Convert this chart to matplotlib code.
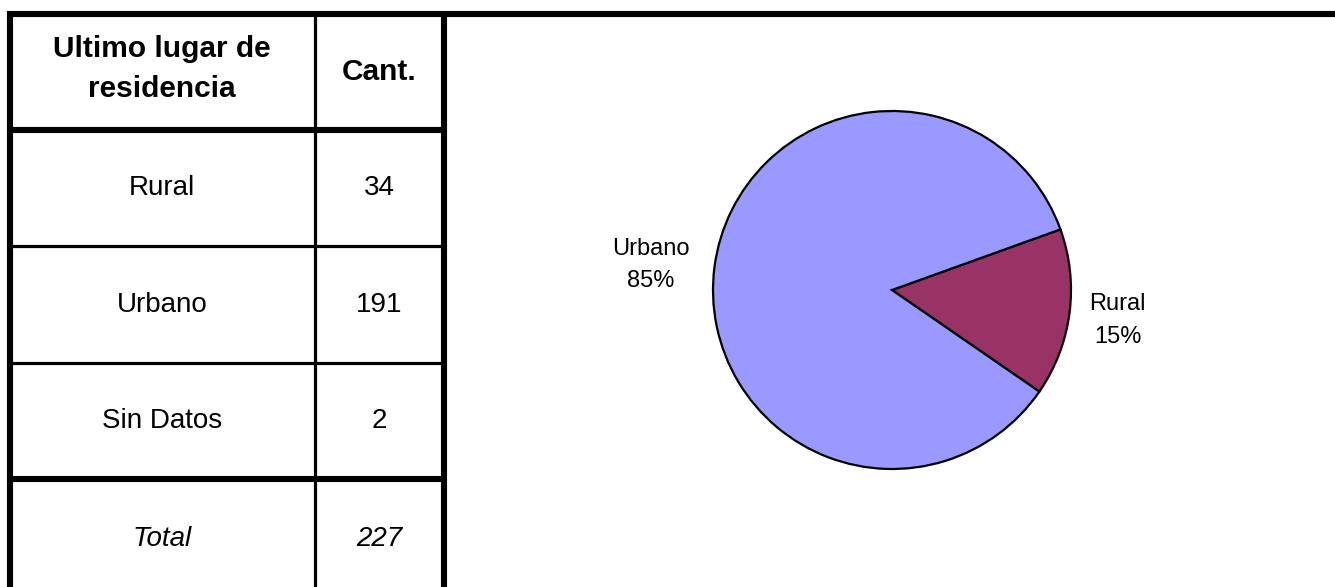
import matplotlib.pyplot as plt
import numpy as np

plt.rcParams["font.family"] = ["Liberation Sans", "DejaVu Sans"]

# table data
header_lugar = "Ultimo lugar de\nresidencia"
header_cant = "Cant."
categorias = ["Rural", "Urbano", "Sin Datos"]
cantidades = [34, 191, 2]
total = 227

# pie data (Sin Datos left out of the chart)
pie_labels = ["Rural", "Urbano"]
pie_values = [34, 191]
pie_colors = ["#993366", "#9999FF"]

W, H = 1335, 587
fig = plt.figure(figsize=(W / 100, H / 100), dpi=100)

# table drawn in pixel coordinates
ax = fig.add_axes([0, 0, 1, 1])
ax.set_xlim(0, W)
ax.set_ylim(H, 0)
ax.axis("off")

x_left, x_div, x_right = 10, 314.5, 444
y_top = 14
row_lines = [130, 246, 363, 479]
thick = 4.4
thin = 2.3

ax.plot([7, W], [y_top, y_top], color="black", lw=thick, solid_capstyle="butt")
ax.plot([x_left, x_left], [11, H], color="black", lw=thick, solid_capstyle="butt")
ax.plot([x_right, x_right], [11, H], color="black", lw=thick, solid_capstyle="butt")
ax.plot([x_div, x_div], [y_top, H], color="black", lw=thin, solid_capstyle="butt")
for i, y in enumerate(row_lines):
    lw = thick if i in (0, len(row_lines) - 1) else thin
    ax.plot([x_left, x_right], [y, y], color="black", lw=lw, solid_capstyle="butt")

c1 = (x_left + x_div) / 2
c2 = (x_div + x_right) / 2
fs = 20

ax.text(c1, 69, header_lugar, ha="center", va="center", fontsize=21.5,
        fontweight="bold", linespacing=1.55)
ax.text(c2, 72, header_cant, ha="center", va="center", fontsize=21.5, fontweight="bold")

for i, (cat, n) in enumerate(zip(categorias, cantidades)):
    yc = (row_lines[i] + row_lines[i + 1]) / 2
    ax.text(c1, yc, cat, ha="center", va="center", fontsize=fs)
    ax.text(c2, yc, str(n), ha="center", va="center", fontsize=fs)

y_total = 539
ax.text(c1, y_total, "Total", ha="center", va="center", fontsize=fs, style="italic")
ax.text(c2, y_total, str(total), ha="center", va="center", fontsize=fs, style="italic")

# pie
cx, cy, r = 892, 290, 179
pax = fig.add_axes([(cx - r) / W, (H - cy - r) / H, 2 * r / W, 2 * r / H])
wedges, _ = pax.pie(pie_values, colors=pie_colors, startangle=-34.6, counterclock=True,
                    wedgeprops=dict(edgecolor="black", linewidth=1.6))
pax.set_xlim(-1, 1)
pax.set_ylim(-1, 1)
pax.set_aspect("equal")

# label spots outside the pie, relative to its centre (radius = 1)
label_pos = [(1.26, -0.17), (-1.346, 0.14)]
tot_pie = sum(pie_values)
for lab, v, (lx, ly) in zip(pie_labels, pie_values, label_pos):
    pct = round(100 * v / tot_pie)
    pax.text(lx, ly, f"{lab}\n{pct}%", ha="center", va="center",
             fontsize=17, linespacing=1.6, clip_on=False)

fig.savefig("out.png", dpi=100)
